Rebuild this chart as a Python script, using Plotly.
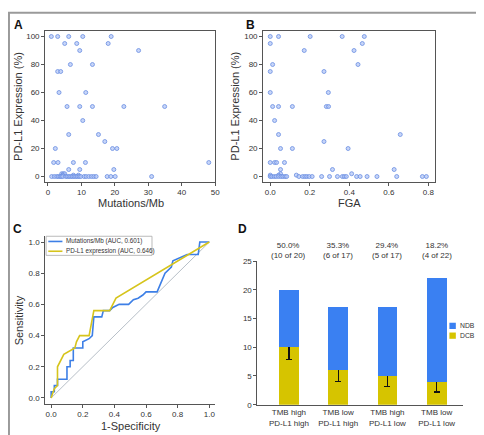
import plotly.graph_objects as go

# ---------------- data ----------------
# Panel A: Mutations/Mb vs PD-L1 expression (%)
tmb_x = [1.0, 2.9, 6.2, 10.4, 18.9,
         5.0, 8.6, 18.0,
         9.5, 27.1,
         6.7, 13.3,
         2.9, 3.8,
         3.3, 11.3,
         5.7, 9.5, 13.3, 22.7, 34.9,
         10.4,
         6.2, 15.1,
         17.0,
         2.2, 19.3, 20.6,
         1.7, 3.0, 7.6, 11.2, 48.1,
         6.2, 9.5, 19.7,
         4.1, 4.6, 5.0,
         4.4, 7.6, 9.1,
         1.1, 1.9, 2.6, 3.1, 3.6, 4.0, 4.4, 5.3, 5.8, 6.3, 6.8, 7.3, 7.8, 8.3,
         8.8, 9.3, 9.8, 10.8, 11.4, 12.2, 13.0, 13.7, 14.4, 17.7, 18.8, 20.1, 31.0]
tmb_y = [100, 100, 100, 100, 100,
         95, 95, 95,
         90, 90,
         80, 80,
         75, 75,
         60, 60,
         50, 50, 50, 50, 50,
         40,
         30, 30,
         25,
         20, 20, 20,
         10, 10, 10, 10, 10,
         5, 5, 5,
         2, 2, 2,
         1, 1, 1,
         0, 0, 0, 0, 0, 0, 0, 0, 0, 0, 0, 0, 0, 0,
         0, 0, 0, 0, 0, 0, 0, 0, 0, 0, 0, 0, 0]

# Panel B: FGA vs PD-L1 expression (%)
fga_x = [0.0, 0.042, 0.202, 0.364, 0.476,
         0.0, 0.466,
         0.172, 0.424,
         0.012, 0.444,
         0.0, 0.272,
         0.0, 0.294,
         0.012, 0.042, 0.112, 0.284, 0.295,
         0.022,
         0.042, 0.658,
         0.272,
         0.052, 0.112, 0.394,
         0.0, 0.022, 0.032, 0.072,
         0.052, 0.315, 0.627,
         0.052, 0.412,
         0.0, 0.042, 0.132,
         0.0, 0.008, 0.02, 0.03, 0.042, 0.054, 0.064, 0.075, 0.083, 0.145,
         0.164, 0.175, 0.185, 0.197, 0.212, 0.26, 0.30, 0.34, 0.365, 0.375,
         0.385, 0.437, 0.455, 0.49, 0.54, 0.64, 0.77, 0.79]
fga_y = [100, 100, 100, 100, 100,
         95, 95,
         90, 90,
         80, 80,
         75, 75,
         60, 60,
         50, 50, 50, 50, 50,
         40,
         30, 30,
         25,
         20, 20, 20,
         10, 10, 10, 10,
         5, 5, 5,
         2, 2,
         1, 1, 1,
         0, 0, 0, 0, 0, 0, 0, 0, 0, 0,
         0, 0, 0, 0, 0, 0, 0, 0, 0, 0,
         0, 0, 0, 0, 0, 0, 0, 0]

# Panel C: ROC curves
fpr_tmb = [0, 0, 0.02, 0.02, 0.04, 0.04, 0.10, 0.10, 0.12, 0.12, 0.14, 0.14, 0.20, 0.20,
           0.24, 0.26, 0.27, 0.32, 0.33, 0.37, 0.39, 0.43, 0.49, 0.52, 0.55, 0.58, 0.60,
           0.67, 0.72, 0.76, 0.77, 0.82, 0.86, 0.93, 0.94, 1.0]
tpr_tmb = [0, 0.04, 0.04, 0.08, 0.08, 0.12, 0.12, 0.20, 0.20, 0.24, 0.24, 0.32, 0.32, 0.36,
           0.38, 0.40, 0.52, 0.52, 0.56, 0.56, 0.58, 0.60, 0.60, 0.63, 0.64, 0.66, 0.68,
           0.68, 0.80, 0.84, 0.88, 0.90, 0.92, 0.92, 1.0, 1.0]
fpr_pdl1 = [0, 0.02, 0.04, 0.04, 0.08, 0.15, 0.16, 0.18, 0.24, 0.27, 0.37, 0.41, 1.0]
tpr_pdl1 = [0, 0.06, 0.08, 0.20, 0.28, 0.32, 0.36, 0.40, 0.40, 0.56, 0.56, 0.64, 1.0]
roc_names = ["Mutations/Mb (AUC, 0.601)", "PD-L1 expression (AUC, 0.646)"]

# Panel D: stacked bars
groups = ["TMB high<br>PD-L1 high", "TMB low<br>PD-L1 high",
          "TMB high<br>PD-L1 low", "TMB low<br>PD-L1 low"]
dcb = [10, 6, 5, 4]
ndb = [10, 11, 12, 18]
err_plus = [2.3, 2.0, 2.0, 1.8]
err_minus = [2.2, 2.0, 1.9, 1.8]
pct_labels = ["50.0%<br>(10 of 20)", "35.3%<br>(6 of 17)",
              "29.4%<br>(5 of 17)", "18.2%<br>(4 of 22)"]
bar_names = ["NDB", "DCB"]

# ---------------- styling ----------------
W, H = 484, 435
FONT = "Liberation Sans, Arial, sans-serif"
TXT = "#333333"
BLUE = "#3d7fe6"
YEL = "#d6c41c"
BAR_BLUE = "#3a80f2"
BAR_YEL = "#d6c400"


def xd(a, b):
    return [a / W, b / W]


def yd(top, bottom):
    return [1 - bottom / H, 1 - top / H]


def px(x):
    return x / W


def py(y):
    return 1 - y / H


marker = dict(size=4, color="rgba(175,195,245,0.7)", line=dict(color="#6a8ee2", width=0.8))

fig = go.Figure()
fig.add_trace(go.Scatter(x=tmb_x, y=tmb_y, mode="markers", marker=marker,
                         xaxis="x", yaxis="y", showlegend=False))
fig.add_trace(go.Scatter(x=fga_x, y=fga_y, mode="markers", marker=marker,
                         xaxis="x2", yaxis="y2", showlegend=False))

# ROC
fig.add_trace(go.Scatter(x=[0, 1], y=[0, 1], mode="lines",
                         line=dict(color="#b8c0c8", width=1),
                         xaxis="x3", yaxis="y3", showlegend=False))
fig.add_trace(go.Scatter(x=fpr_tmb, y=tpr_tmb, mode="lines", name=roc_names[0],
                         line=dict(color=BLUE, width=1.6),
                         xaxis="x3", yaxis="y3", showlegend=False))
fig.add_trace(go.Scatter(x=fpr_pdl1, y=tpr_pdl1, mode="lines", name=roc_names[1],
                         line=dict(color=YEL, width=1.6),
                         xaxis="x3", yaxis="y3", showlegend=False))

# Bars
fig.add_trace(go.Bar(x=groups, y=dcb, name="DCB", marker=dict(color=BAR_YEL, line=dict(width=0)),
                     width=0.4, xaxis="x4", yaxis="y4", showlegend=False,
                     error_y=dict(type="data", symmetric=False, array=err_plus,
                                  arrayminus=err_minus, color="#111111",
                                  thickness=1.2, width=3)))
fig.add_trace(go.Bar(x=groups, y=ndb, name="NDB", marker=dict(color=BAR_BLUE, line=dict(width=0)),
                     width=0.4, xaxis="x4", yaxis="y4", showlegend=False))

tickfont = dict(family=FONT, size=8, color=TXT)
box_axis = dict(showline=True, linecolor="#555555", linewidth=1.3, mirror=True,
                ticks="outside", ticklen=3, tickcolor="#555555", showgrid=False,
                zeroline=False, tickfont=tickfont)
open_axis = dict(showline=True, linecolor="#555555", linewidth=1, mirror=False,
                 ticks="outside", ticklen=3, tickcolor="#555555", showgrid=False,
                 zeroline=False, tickfont=tickfont)

fig.update_layout(
    width=W, height=H,
    margin=dict(l=0, r=0, t=0, b=0),
    paper_bgcolor="white", plot_bgcolor="white",
    font=dict(family=FONT, color=TXT),
    barmode="stack",
    showlegend=False,
    xaxis=dict(domain=xd(37.7, 209.3), range=[-0.8, 50], tickvals=[0, 10, 20, 30, 40, 50],
               anchor="y", **box_axis),
    yaxis=dict(domain=yd(19.3, 173.3), range=[-3.7, 104], tickvals=[0, 20, 40, 60, 80, 100],
               anchor="x", **box_axis),
    xaxis2=dict(domain=xd(258, 431.3), range=[-0.035, 0.833],
                tickvals=[0, 0.2, 0.4, 0.6, 0.8], ticktext=["0.0", "0.2", "0.4", "0.6", "0.8"],
                anchor="y2", **box_axis),
    yaxis2=dict(domain=yd(19.3, 173.3), range=[-3.7, 104], tickvals=[0, 20, 40, 60, 80, 100],
                anchor="x2", **box_axis),
    xaxis3=dict(domain=xd(37.7, 209.3), range=[-0.037, 1.037],
                tickvals=[0, 0.2, 0.4, 0.6, 0.8, 1.0],
                ticktext=["0.0", "0.2", "0.4", "0.6", "0.8", "1.0"], anchor="y3", **open_axis),
    yaxis3=dict(domain=yd(229, 400), range=[-0.037, 1.037],
                tickvals=[0, 0.2, 0.4, 0.6, 0.8, 1.0],
                ticktext=["0.0", "0.2", "0.4", "0.6", "0.8", "1.0"], anchor="x3", **open_axis),
    xaxis4=dict(domain=xd(252, 460), range=[-0.64, 3.54], anchor="y4",
                showline=True, linecolor="#555555", linewidth=1, ticks="",
                showgrid=False, zeroline=False, tickfont=tickfont),
    yaxis4=dict(domain=yd(254.3, 401), range=[0, 25], tickvals=[0, 5, 10, 15, 20, 25],
                anchor="x4", **open_axis),
)

ann = []
def text(x, y, s, size, bold=False, angle=0, xanchor="center", yanchor="middle", color=None):
    ann.append(dict(x=px(x), y=py(y), xref="paper", yref="paper",
                    text=("<b>%s</b>" % s) if bold else s,
                    showarrow=False, textangle=angle, xanchor=xanchor, yanchor=yanchor,
                    font=dict(family=FONT, size=size,
                              color=color or ("#111111" if bold else TXT))))

text(4, 13, "A", 12, bold=True, xanchor="left")
text(238, 13, "B", 12, bold=True, xanchor="left")
text(3, 222, "C", 12, bold=True, xanchor="left")
text(230, 222, "D", 12, bold=True, xanchor="left")
text(124, 195, "Mutations/Mb", 11)
text(345, 195, "FGA", 11)
text(124, 423, "1-Specificity", 11)
text(10, 96, "PD-L1 Expression (%)", 11, angle=-90)
text(229, 96, "PD-L1 Expression (%)", 11, angle=-90)
text(12, 315, "Sensitivity", 11, angle=-90)
for g, lab in zip(groups, pct_labels):
    ann.append(dict(x=g, y=py(244), xref="x4", yref="paper", text=lab, showarrow=False,
                    font=dict(family=FONT, size=8, color=TXT), xanchor="center", yanchor="middle"))

shapes = []
# ROC legend (box, line samples, labels)
shapes.append(dict(type="rect", xref="paper", yref="paper", x0=px(38.5), x1=px(145.5),
                   y0=py(248.5), y1=py(229), line=dict(color="#aaaaaa", width=0.8),
                   fillcolor="white", layer="above"))
for i, (nm, col) in enumerate(zip(roc_names, [BLUE, YEL])):
    yy = 234.3 + i * 10
    shapes.append(dict(type="line", xref="paper", yref="paper", x0=px(40.7), x1=px(55),
                       y0=py(yy), y1=py(yy), line=dict(color=col, width=1.6), layer="above"))
    text(57, yy, nm, 6.3, xanchor="left")

# Bar legend
for i, (nm, col) in enumerate(zip(bar_names, [BAR_BLUE, BAR_YEL])):
    yy = 320.5 + i * 10
    shapes.append(dict(type="rect", xref="paper", yref="paper", x0=px(446), x1=px(452.5),
                       y0=py(yy + 3.2), y1=py(yy - 3.2), line=dict(width=0), fillcolor=col))
    text(455, yy, nm, 6.8, xanchor="left")

# outer frame
shapes.append(dict(type="rect", xref="paper", yref="paper", x0=0.002, y0=0.002, x1=0.998, y1=0.998,
                   line=dict(color="#9a9a9a", width=2)))
fig.update_layout(annotations=ann, shapes=shapes)

fig.write_html("out.html")
